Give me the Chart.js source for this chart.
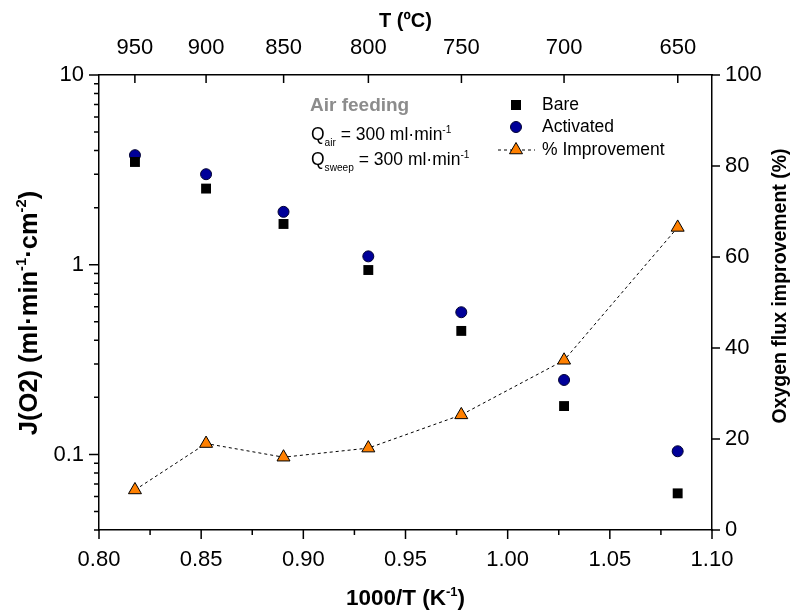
<!DOCTYPE html>
<html>
<head>
<meta charset="utf-8">
<script src="https://cdn.jsdelivr.net/npm/chart.js@4.4.0/dist/chart.umd.min.js"></script>
<style>
html, body { margin:0; padding:0; background:#fff; }
</style>
</head>
<body>
<canvas id="grafico" width="796" height="612"></canvas>
<script>
// 1000/T (K-1) das medidas (950 ... 650 ºC)
var invT = [0.8176, 0.8524, 0.8903, 0.9318, 0.9773, 1.0276, 1.0832];
var bare = [3.48, 2.52, 1.64, 0.938, 0.448, 0.180, 0.0624];
var activated = [3.78, 3.00, 1.90, 1.107, 0.562, 0.247, 0.104];
var improvement = [8.8, 19.0, 16.0, 18.0, 25.3, 37.3, 66.5];

var topTicksC = [950, 900, 850, 800, 750, 700, 650];
var fonte = '"Liberation Sans", Arial, sans-serif';

function f(tam, peso){ return (peso || '') + ' ' + tam + 'px ' + fonte; }

// texto com sub/sobrescrito: partes = [[texto, '' | 'sup' | 'sub'], ...]
function textoRico(ctx, partes, x, y, tam, peso, centro){
	var total = 0;
	partes.forEach(function(p){
		ctx.font = f(p[1] ? tam * 0.58 : tam, peso);
		total += ctx.measureText(p[0]).width;
	});
	var cx = centro ? x - total / 2 : x;
	partes.forEach(function(p){
		var t = p[1] ? tam * 0.58 : tam;
		ctx.font = f(t, peso);
		var dy = p[1] == 'sup' ? -tam * 0.42 : (p[1] == 'sub' ? tam * 0.34 : 0);
		ctx.fillText(p[0], cx, y + dy);
		cx += ctx.measureText(p[0]).width;
	});
}

var marcas = {
	id: 'marcas',
	afterDraw: function(chart){
		var ctx = chart.ctx, a = chart.chartArea, s = chart.scales;
		ctx.save();
		ctx.strokeStyle = '#000';
		ctx.lineWidth = 1.5;
		ctx.beginPath();
		s.x.ticks.forEach(function(t, i){
			var px = s.x.getPixelForValue(t.value);
			ctx.moveTo(px, a.bottom); ctx.lineTo(px, a.bottom + (i % 2 == 0 ? 9 : 5));
		});
		s.x2.ticks.forEach(function(t){
			var px = s.x2.getPixelForValue(t.value);
			ctx.moveTo(px, a.top); ctx.lineTo(px, a.top + 8);
		});
		s.y.ticks.forEach(function(t){
			var py = s.y.getPixelForValue(t.value);
			ctx.moveTo(a.left, py); ctx.lineTo(a.left - (t.label ? 10 : 5), py);
		});
		s.y2.ticks.forEach(function(t){
			var py = s.y2.getPixelForValue(t.value);
			ctx.moveTo(a.right, py); ctx.lineTo(a.right + 8, py);
		});
		ctx.stroke();

		// titulos dos eixos
		ctx.fillStyle = '#000';
		ctx.textBaseline = 'alphabetic';
		var meio = (a.left + a.right) / 2;
		textoRico(ctx, [['T (ºC)', '']], meio, 27, 20, 'bold', true);
		textoRico(ctx, [['1000/T (K', ''], ['-1', 'sup'], [')', '']], meio, 605, 22.5, 'bold', true);

		ctx.save();
		ctx.translate(37, 313);
		ctx.rotate(-Math.PI / 2);
		textoRico(ctx, [['J(O2) (ml·min', ''], ['-1', 'sup'], ['·cm', ''], ['-2', 'sup'], [')', '']], 0, 0, 25.5, 'bold', true);
		ctx.restore();

		ctx.save();
		ctx.translate(786, 286);
		ctx.rotate(-Math.PI / 2);
		textoRico(ctx, [['Oxygen flux improvement (%)', '']], 0, 0, 19.5, 'bold', true);
		ctx.restore();

		// anotacao
		ctx.fillStyle = '#8c8c8c';
		textoRico(ctx, [['Air feeding', '']], 310, 111, 19, 'bold', false);
		ctx.fillStyle = '#000';
		textoRico(ctx, [['Q', ''], ['air', 'sub'], [' = 300 ml·min', ''], ['-1', 'sup']], 311, 140, 17.5, '', false);
		textoRico(ctx, [['Q', ''], ['sweep', 'sub'], [' = 300 ml·min', ''], ['-1', 'sup']], 311, 165, 17.5, '', false);

		// legenda
		var lx = 516, ly = [105, 127, 150];
		ctx.fillStyle = '#000';
		ctx.fillRect(lx - 5, ly[0] - 5, 10, 10);
		ctx.beginPath();
		ctx.arc(lx, ly[1], 5.5, 0, Math.PI * 2);
		ctx.fillStyle = '#000099'; ctx.fill();
		ctx.lineWidth = 1; ctx.strokeStyle = '#000033'; ctx.stroke();
		ctx.beginPath();
		ctx.setLineDash([3, 3]);
		ctx.strokeStyle = '#000';
		ctx.moveTo(498, ly[2]); ctx.lineTo(535, ly[2]);
		ctx.stroke();
		ctx.setLineDash([]);
		ctx.beginPath();
		ctx.moveTo(lx, ly[2] - 7.5);
		ctx.lineTo(lx + 6.5, ly[2] + 3.75);
		ctx.lineTo(lx - 6.5, ly[2] + 3.75);
		ctx.closePath();
		ctx.fillStyle = '#ff8000'; ctx.fill();
		ctx.strokeStyle = '#000'; ctx.stroke();

		ctx.fillStyle = '#000';
		ctx.textBaseline = 'middle';
		ctx.font = f(17.5);
		ctx.fillText('Bare', 542, ly[0]);
		ctx.fillText('Activated', 542, ly[1]);
		ctx.fillText('% Improvement', 542, ly[2]);
		ctx.restore();
	}
};

function pontos(ys){
	return invT.map(function(x, i){ return {x: x, y: ys[i]}; });
}

var tickFont = { family: fonte, size: 22 };
var borda = { display: true, color: '#000', width: 1.5 };

var data = {
	datasets: [
		{
			label: 'Bare',
			data: pontos(bare),
			yAxisID: 'y',
			xAxisID: 'x',
			pointStyle: 'rect',
			pointRadius: 7,
			backgroundColor: '#000',
			borderColor: '#000',
			borderWidth: 0,
			showLine: false
		},
		{
			label: 'Activated',
			data: pontos(activated),
			yAxisID: 'y',
			xAxisID: 'x',
			pointStyle: 'circle',
			pointRadius: 5.5,
			backgroundColor: '#000099',
			borderColor: '#000033',
			borderWidth: 1,
			showLine: false
		},
		{
			label: '% Improvement',
			data: pontos(improvement),
			yAxisID: 'y2',
			xAxisID: 'x',
			pointStyle: 'triangle',
			pointRadius: 7.5,
			pointBackgroundColor: '#ff8000',
			pointBorderColor: '#000',
			pointBorderWidth: 1,
			borderColor: '#000',
			borderWidth: 1,
			borderDash: [3, 3],
			showLine: true,
			tension: 0
		}
	]
};

var options = {
	responsive: false,
	animation: false,
	layout: { padding: 0 },
	plugins: { legend: { display: false }, tooltip: { enabled: false } },
	scales: {
		x: {
			type: 'linear', position: 'bottom', min: 0.8, max: 1.1,
			grid: { display: false, drawTicks: true, tickLength: 9 },
			border: borda,
			afterBuildTicks: function(ax){
				var t = [];
				for (var i = 0; i <= 12; i++) t.push({ value: 0.8 + i * 0.025 });
				ax.ticks = t;
			},
			ticks: {
				autoSkip: false, maxRotation: 0, padding: 8, color: '#000', font: tickFont,
				callback: function(v, i){ return i % 2 == 0 ? v.toFixed(2) : ''; }
			},
			afterFit: function(ax){ ax.height = 82; }
		},
		x2: {
			type: 'linear', position: 'top', min: 0.8, max: 1.1,
			grid: { display: false, drawTicks: false },
			border: borda,
			afterBuildTicks: function(ax){
				ax.ticks = topTicksC.map(function(c){ return { value: 1000 / (c + 273.15) }; });
			},
			ticks: {
				autoSkip: false, maxRotation: 0, padding: 14, color: '#000', font: tickFont,
				callback: function(v, i){ return String(topTicksC[i]); }
			},
			afterFit: function(ax){ ax.height = 75; }
		},
		y: {
			type: 'logarithmic', position: 'left', min: 0.04, max: 10,
			grid: { display: false, drawTicks: true, tickLength: 10 },
			border: borda,
			afterBuildTicks: function(ax){
				var t = [];
				[0.01, 0.1, 1].forEach(function(d){
					for (var k = 1; k <= 9; k++) {
						var v = +(k * d).toPrecision(3);
						if (v >= 0.04) t.push({ value: v });
					}
				});
				t.push({ value: 10 });
				ax.ticks = t;
			},
			ticks: {
				autoSkip: false, padding: 5, color: '#000', font: tickFont,
				callback: function(v){
					var l = Math.log10(v);
					return Math.abs(l - Math.round(l)) < 1e-6 ? String(v) : '';
				}
			},
			afterFit: function(ax){ ax.width = 99; }
		},
		y2: {
			type: 'linear', position: 'right', min: 0, max: 100,
			grid: { display: false, drawTicks: true, tickLength: 8 },
			border: borda,
			ticks: { stepSize: 20, autoSkip: false, padding: 5, color: '#000', font: tickFont },
			afterFit: function(ax){ ax.width = 84; }
		}
	}
};

var ctx = document.getElementById('grafico').getContext('2d');
new Chart(ctx, { type: 'scatter', data: data, options: options, plugins: [marcas] });
</script>
</body>
</html>
